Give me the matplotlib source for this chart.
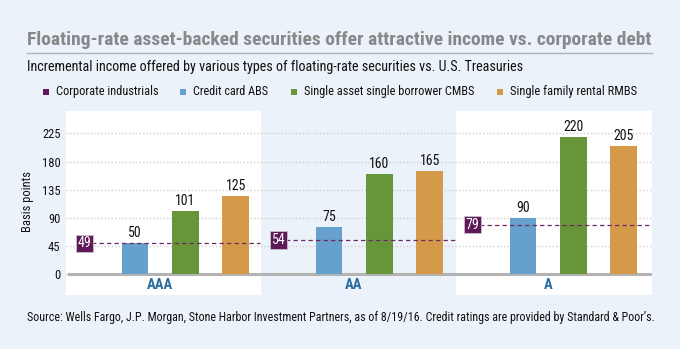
import matplotlib.pyplot as plt
from matplotlib import font_manager as fm
from matplotlib.patches import Rectangle
from matplotlib.lines import Line2D


def weight_num(w):
    return w if isinstance(w, int) else fm.weight_dict.get(w, 400)


# prefer a narrow face that also has a bold cut, the original uses a condensed sans
narrow = {}
for f in fm.fontManager.ttflist:
    if 'Narrow' in f.name or 'Condensed' in f.name:
        narrow.setdefault(f.name, set()).add(weight_num(f.weight))
preferred = ['Liberation Sans Narrow', 'Roboto Condensed', 'Open Sans Condensed', 'Noto Sans Condensed']
chosen = [n for n in preferred if n in narrow]
chosen += sorted(n for n in narrow if n not in chosen and max(narrow[n]) >= 600)
chosen += sorted(n for n in narrow if n not in chosen)
plt.rcParams['font.family'] = chosen[:1] + ['Liberation Sans', 'DejaVu Sans']

ratings = ['AAA', 'AA', 'A']
series = ['Corporate industrials', 'Credit card ABS',
          'Single asset single borrower CMBS', 'Single family rental RMBS']
corporate = [49, 54, 79]
credit_card = [50, 75, 90]
cmbs = [101, 160, 220]
rmbs = [125, 165, 205]
y_ticks = [0, 45, 90, 135, 180, 225]

colors = ['#5e1a58', '#66a0cc', '#67963a', '#d49a4a']
bg = '#ebf2f9'
W, H = 680, 349


def fx(p):
    return p / W


def fy(p):
    return 1 - p / H


fig = plt.figure(figsize=(W / 100, H / 100), dpi=100, facecolor=bg)
to_fit = []

# header
t = fig.text(fx(27), fy(40), 'Floating-rate asset-backed securities offer attractive income vs. corporate debt',
             fontsize=12.5, fontweight='bold', color='#878889', va='center', ha='left')
to_fit.append((t, 623))
fig.add_artist(Line2D([fx(27), fx(652)], [fy(53), fy(53)], color='#b0b3b6', lw=1))
t = fig.text(fx(27), fy(67), 'Incremental income offered by various types of floating-rate securities vs. U.S. Treasuries',
             fontsize=9.5, color='#111111', va='center', ha='left')
to_fit.append((t, 500))

# legend
legend_x = [43, 180, 291, 497]
legend_w = [102, 75, 170, 127]
for x, w, name, c in zip(legend_x, legend_w, series, colors):
    fig.add_artist(Rectangle((fx(x), fy(95)), 6 / W, 6 / H, color=c, lw=0))
    t = fig.text(fx(x + 13), fy(92), name, fontsize=8.5, color='#111111', va='center', ha='left')
    to_fit.append((t, w))

# chart area
ax = fig.add_axes([fx(66), fy(295), (652 - 66) / W, (295 - 111) / H])
ax.set_facecolor(bg)
ax.set_xlim(-0.485, 2.536)
ax.set_ylim(-34, 261)

panel_edges = [-0.485, 0.52, 1.525, 2.536]
for i in (0, 2):
    ax.axvspan(panel_edges[i], panel_edges[i + 1], color='white', lw=0, zorder=0)

ax.set_yticks(y_ticks)
ax.grid(axis='y', color='#cfcfcf', lw=1, ls=(0, (1, 1.5)), zorder=1)
ax.set_xticks([])
ax.tick_params(axis='y', length=0, pad=4, labelsize=9, labelcolor='#111111')
for s in ax.spines.values():
    s.set_visible(False)
ax.set_ylabel('Basis points', fontsize=9, color='#111111')
ax.yaxis.set_label_coords((34 - 66) / 586, (295 - 202) / 184)

ax.axhline(0, xmin=3 / 586, color='#b3b3b3', lw=2.2, zorder=2)

step = 0.26
width = 0.137
xs = list(range(len(ratings)))
for k, vals in enumerate([credit_card, cmbs, rmbs]):
    pos = [x + (k - 0.5) * step for x in xs]
    bars = ax.bar(pos, vals, width, color=colors[k + 1], zorder=3)
    ax.bar_label(bars, padding=2, fontsize=10, color='#111111')

for i, v in enumerate(corporate):
    x0 = i - 1.5 * step
    ax.hlines(v, x0, panel_edges[i + 1] - 0.005, colors='#6b2a66', lw=0.9,
              linestyles=(0, (3.5, 2.5)), zorder=4)
    ax.text(x0, v, str(v), ha='center', va='center', color='white', fontsize=10, zorder=5,
            bbox=dict(boxstyle='square,pad=0.12', fc=colors[0], ec='#c9c0cc', lw=0.6))

for i, r in enumerate(ratings):
    ax.text(i, -18, r, ha='center', va='center', color='#2a6c9f', fontsize=10.5,
            fontweight='semibold')

t = fig.text(fx(27), fy(318),
             'Source: Wells Fargo, J.P. Morgan, Stone Harbor Investment Partners, as of 8/19/16. '
             'Credit ratings are provided by Standard & Poor\u2019s.',
             fontsize=8.5, color='#111111', va='center', ha='left')
to_fit.append((t, 625))

# scale header/footer texts to the widths they take in the original
renderer = fig.canvas.get_renderer()
for t, target in to_fit:
    w = t.get_window_extent(renderer).width
    t.set_fontsize(t.get_fontsize() * min(target / w, 1.25))

fig.savefig('out.png', dpi=100, facecolor=bg)
